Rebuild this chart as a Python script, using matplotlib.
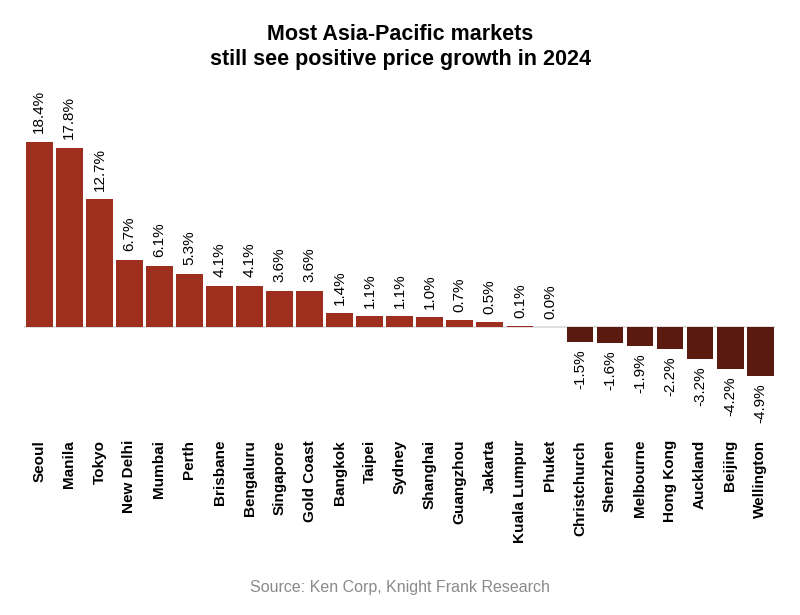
import matplotlib.pyplot as plt
import numpy as np

# Data
cities = ['Seoul', 'Manila', 'Tokyo', 'New Delhi', 'Mumbai', 'Perth', 'Brisbane',
          'Bengaluru', 'Singapore', 'Gold Coast', 'Bangkok', 'Taipei', 'Sydney',
          'Shanghai', 'Guangzhou', 'Jakarta', 'Kuala Lumpur', 'Phuket',
          'Christchurch', 'Shenzhen', 'Melbourne', 'Hong Kong', 'Auckland',
          'Beijing', 'Wellington']
growth = [18.4, 17.8, 12.7, 6.7, 6.1, 5.3, 4.1, 4.1, 3.6, 3.6, 1.4, 1.1, 1.1,
          1.0, 0.7, 0.5, 0.1, 0.0, -1.5, -1.6, -1.9, -2.2, -3.2, -4.2, -4.9]

plt.rcParams['font.family'] = ['Liberation Sans', 'DejaVu Sans']

fig = plt.figure(figsize=(8, 6.15), dpi=100)
ax = fig.add_axes([0.03, 0.2846, 0.939, 0.5772])

x = np.arange(len(cities))
colors = ['#9e2f1f' if v >= 0 else '#5a1a10' for v in growth]
ax.bar(x, growth, width=0.89, color=colors, zorder=2)
ax.axhline(0, color='#d9d9d9', lw=1.2, zorder=1)

# Value labels
for xi, v in zip(x, growth):
    if v >= 0:
        ax.annotate(f'{v:.1f}%', (xi, v), xytext=(0, 6), textcoords='offset points',
                    rotation=90, ha='center', va='bottom', fontsize=11)
    else:
        ax.annotate(f'{v:.1f}%', (xi, v), xytext=(0, -5), textcoords='offset points',
                    rotation=90, ha='center', va='top', fontsize=11)

ax.set_xlim(-0.51, len(cities) - 0.5)
ax.set_ylim(-11.22, 24.03)
ax.set_xticks(x)
ax.set_xticklabels(cities, rotation=90, fontsize=11, fontweight='bold')
ax.tick_params(axis='x', length=0, pad=0)
ax.set_yticks([])
for s in ax.spines.values():
    s.set_visible(False)

fig.text(0.5, 0.924, 'Most Asia-Pacific markets\nstill see positive price growth in 2024',
         ha='center', va='center', fontsize=15.5, fontweight='bold', linespacing=1.25)
fig.text(0.5, 0.045, 'Source: Ken Corp, Knight Frank Research', ha='center', va='center',
         fontsize=11.5, color='#8a8a8a')

fig.savefig('out.png', dpi=100, facecolor='white')
